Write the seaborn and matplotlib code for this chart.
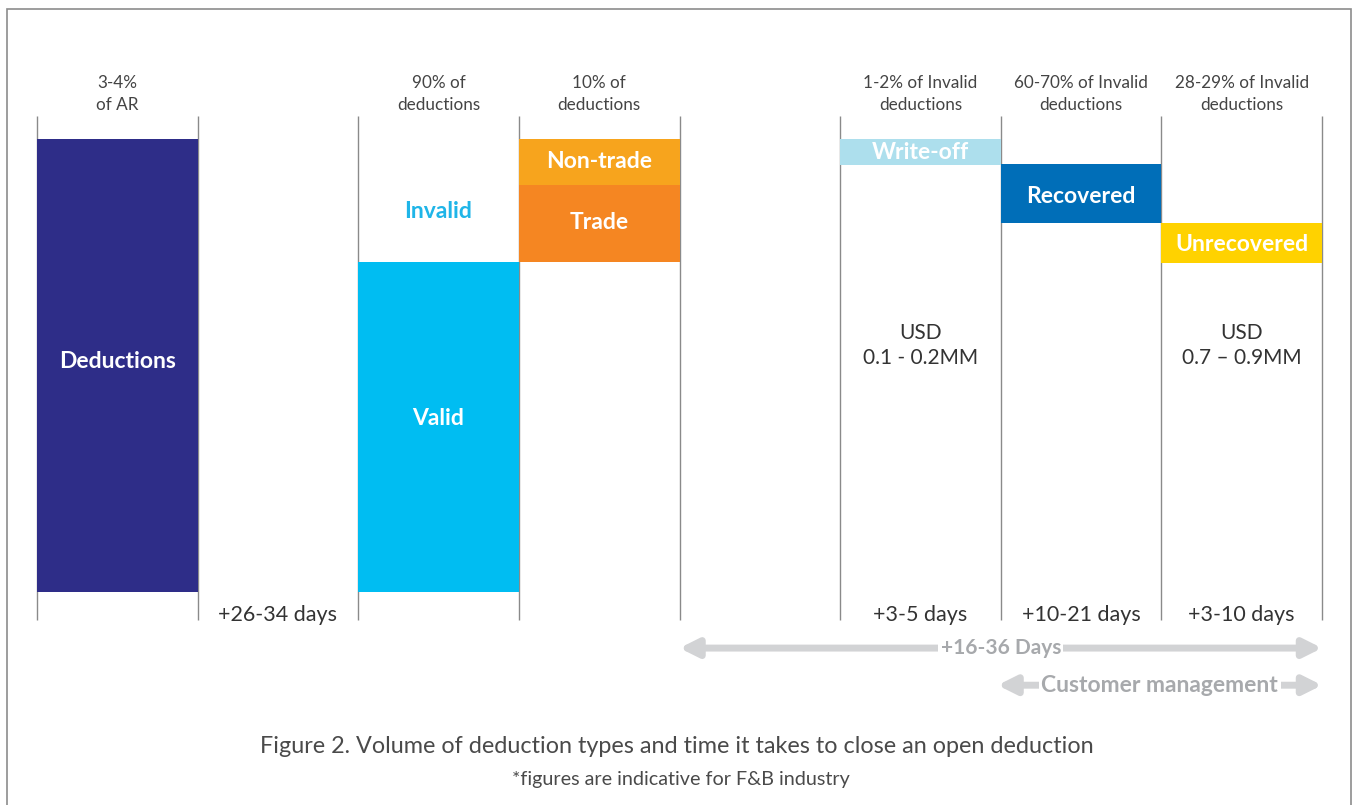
import matplotlib
matplotlib.use("Agg")
import matplotlib.pyplot as plt
from matplotlib.patches import Rectangle
import seaborn as sns
import pandas as pd

# ---- data ----
segments = ["Deductions", "Valid", "Trade", "Non-trade", "Write-off", "Recovered", "Unrecovered"]
seg_col = [0, 2, 3, 3, 5, 6, 7]
seg_bottom = [0.0, 0.0, 72.8, 89.8, 94.3, 81.5, 72.6]
seg_top = [100.0, 72.8, 89.8, 100.0, 100.0, 94.5, 81.5]
seg_colors = ["#2E2D88", "#00BDF2", "#F58622", "#F7A41D", "#ADDFED", "#006EB8", "#FFD200"]

top_labels = ["3-4%\nof AR", "", "90% of\ndeductions", "10% of\ndeductions", "",
              "1-2% of Invalid\ndeductions", "60-70% of Invalid\ndeductions", "28-29% of Invalid\ndeductions"]
bottom_labels = ["", "+26-34 days", "", "", "", "+3-5 days", "+10-21 days", "+3-10 days"]
usd_labels = {5: "USD\n0.1 - 0.2MM", 7: "USD\n0.7 – 0.9MM"}
span_labels = ["+16-36 Days", "Customer management"]
span_ranges = [(4, 8), (5.98, 8)]

df = pd.DataFrame({"segment": segments, "col": seg_col, "bottom": seg_bottom,
                   "top": seg_top, "color": seg_colors})

sns.set_theme(style="white")
plt.rcParams["font.family"] = ["Lato", "DejaVu Sans"]

W, H = 1354, 805
fig = plt.figure(figsize=(W / 100, H / 100), dpi=100)
ax = fig.add_axes([37 / W, (H - 620) / H, (1322 - 37) / W, (620 - 116) / H])
ax.set_xlim(0, 8)
ax.set_ylim(-6.2, 105.1)
ax.axis("off")

# vertical separators
ax.vlines(range(9), -6.2, 105.1, color="#8a8a8a", lw=1, clip_on=False)

# floating bars
for _, r in df.iterrows():
    ax.bar(r["col"] + 0.5, r["top"] - r["bottom"], bottom=r["bottom"], width=1.0,
           color=r["color"], edgecolor="none", align="center", zorder=2)

# bar labels
lab_kw = dict(ha="center", va="center", color="white", fontsize=16.5, fontweight="bold", zorder=3)
ax.text(0.5, 50.8, "Deductions", **lab_kw)
ax.text(2.5, 38.2, "Valid", **lab_kw)
ax.text(2.5, 83.9, "Invalid", ha="center", va="center", color="#1FB5E8",
        fontsize=16.5, fontweight="bold")
ax.text(3.5, 81.5, "Trade", **lab_kw)
ax.text(3.5, 95.1, "Non-trade", **lab_kw)
ax.text(5.5, 97.1, "Write-off", **lab_kw)
ax.text(6.5, 87.4, "Recovered", **lab_kw)
ax.text(7.5, 76.8, "Unrecovered", **lab_kw)

# USD labels
for c, t in usd_labels.items():
    ax.text(c + 0.5, 54.5, t, ha="center", va="center", color="#333333",
            fontsize=15, linespacing=1.3)

# top labels
for i, t in enumerate(top_labels):
    if t:
        ax.text(i + 0.5, 110.0, t, ha="center", va="center", color="#444444",
                fontsize=12.3, linespacing=1.5, clip_on=False)

# bottom labels
for i, t in enumerate(bottom_labels):
    if t:
        ax.text(i + 0.5, -5.2, t, ha="center", va="center", color="#333333",
                fontsize=15.5, clip_on=False)

# span arrows
span_y = [-12.4, -20.6]
span_fs = [15, 16.5]
for (x0, x1), t, y, fs in zip(span_ranges, span_labels, span_y, span_fs):
    ax.annotate("", xy=(x1, y), xytext=(x0, y), annotation_clip=False,
                arrowprops=dict(arrowstyle="<|-|>,head_length=0.9,head_width=0.45",
                                lw=5, color="#D2D3D5", shrinkA=0, shrinkB=0))
    ax.text((x0 + x1) / 2, y, t, ha="center", va="center", color="#A7A9AC",
            fontsize=fs, fontweight="bold", clip_on=False,
            bbox=dict(boxstyle="square,pad=0.12", fc="white", ec="none"))

# caption
fig.text(677 / W, 1 - 746 / H, "Figure 2. Volume of deduction types and time it takes to close an open deduction",
         ha="center", va="center", fontsize=16.8, color="#4a4a4a")
fig.text(681 / W, 1 - 779 / H, "*figures are indicative for F&B industry",
         ha="center", va="center", fontsize=14.2, color="#4a4a4a")

# frame
fig.add_artist(Rectangle((7 / W, -0.1), (1351 - 7) / W, 1.1 - 9 / H, transform=fig.transFigure,
                         fill=False, ec="#8c8c8c", lw=1.2))

fig.savefig("out.png", dpi=100)
